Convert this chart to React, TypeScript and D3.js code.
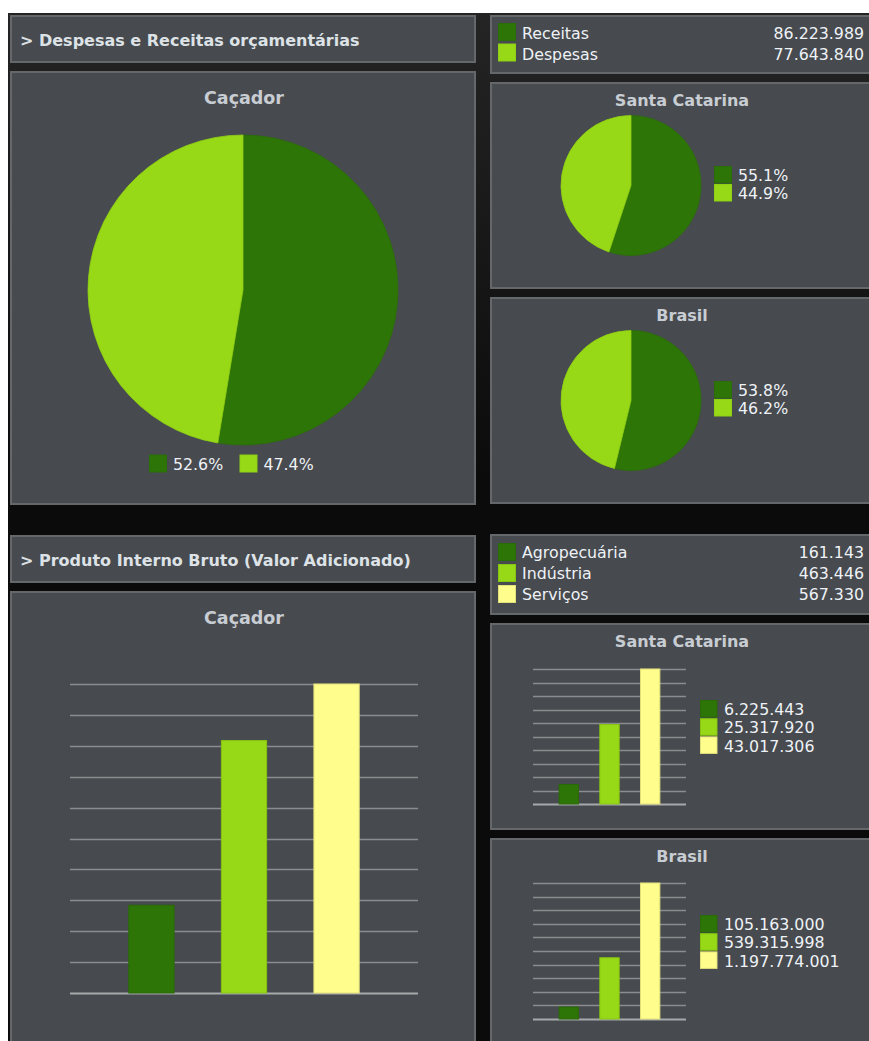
import React from "react";
import * as d3 from "d3";

// ---- Data ----
const budgetCategories = ["Receitas", "Despesas"];
const budgetValues = [86223989, 77643840];
const cacadorPiePct = [52.6, 47.4];
const scPiePct = [55.1, 44.9];
const brasilPiePct = [53.8, 46.2];

const pibCategories = ["Agropecuária", "Indústria", "Serviços"];
const cacadorPib = [161143, 463446, 567330];
const scPib = [6225443, 25317920, 43017306];
const brasilPib = [105163000, 539315998, 1197774001];

const pieColors = ["#2e7508", "#97d916"];
const pieStroke = ["#2b6e08", "#8fcf14"];
const barColors = ["#2e7508", "#97d916", "#fffd8c"];
const barStroke = ["#2a6a07", "#86c412", "#e2e07a"];

const FONT = "'DejaVu Sans', Verdana, sans-serif";
const PANEL_FILL = "#474a4e";
const PANEL_STROKE = "#65686b";
const TITLE_COLOR = "#c8cdd3";
const TEXT_COLOR = "#eef2f7";
const LEG_FS = 15.8;

const locale = d3.formatLocale({ decimal: ",", thousands: ".", grouping: [3], currency: ["", ""] });
const fmt = locale.format(",d");
const pctFmt = (v: number) => v.toFixed(1) + "%";

function Panel({ x, y, w, h }: { x: number; y: number; w: number; h: number }) {
  return <rect x={x + 1} y={y + 1} width={w - 2} height={h - 2} fill={PANEL_FILL} stroke={PANEL_STROKE} strokeWidth={2} />;
}

function Pie({ cx, cy, r, values }: { cx: number; cy: number; r: number; values: number[] }) {
  const arcs = d3.pie<number>().sort(null).value((d) => d)(values);
  const arc = d3.arc<d3.PieArcDatum<number>>().innerRadius(0).outerRadius(r);
  return (
    <g transform={`translate(${cx},${cy})`}>
      {arcs.map((a, i) => (
        <path key={i} d={arc(a) || ""} fill={pieColors[i]} stroke={pieStroke[i]} strokeWidth={0.8} />
      ))}
    </g>
  );
}

function Bars({ x0, x1, yTop, yBot, values }: { x0: number; x1: number; yTop: number; yBot: number; values: number[] }) {
  const max = d3.max(values) as number;
  const y = d3.scaleLinear().domain([0, max]).range([yBot, yTop]);
  const x = d3.scaleBand<number>().domain(values.map((_, i) => i)).range([x0, x1]).paddingInner(0.5).paddingOuter(0.63);
  const grid = d3.range(0, 11).map((i) => (max * i) / 10);
  return (
    <g>
      {grid.map((g, i) => (
        <line
          key={i}
          x1={x0}
          x2={x1}
          y1={Math.round(y(g)) + 0.5}
          y2={Math.round(y(g)) + 0.5}
          stroke={i === 0 ? "#a6a9ac" : "#8a8d90"}
          strokeWidth={i === 0 ? 2 : 1.3}
        />
      ))}
      {values.map((v, i) => (
        <rect
          key={i}
          x={x(i)! + 0.5}
          y={y(v)}
          width={x.bandwidth() - 1}
          height={yBot - y(v)}
          fill={barColors[i]}
          stroke={barStroke[i]}
          strokeWidth={1}
        />
      ))}
    </g>
  );
}

export default function App() {
  return (
    <svg
      width={869}
      height={1041}
      style={{ position: "absolute", left: 0, top: 0, display: "block" }}
      fontFamily={FONT}
    >
      <defs>
        <linearGradient id="bg" gradientUnits="userSpaceOnUse" x1={0} y1={13} x2={0} y2={480}>
          <stop offset="0" stopColor="#242424" />
          <stop offset="1" stopColor="#0b0b0b" />
        </linearGradient>
      </defs>
      <rect x={0} y={0} width={869} height={1041} fill="#ffffff" />
      <rect x={8} y={13} width={861} height={1028} fill="url(#bg)" />

      {/* ===== Section 1: budget ===== */}
      <Panel x={10} y={15} w={466} h={48} />
      <text x={20} y={45.5} fontSize={16} fontWeight="bold" fill="#dde2e7">
        {"> Despesas e Receitas orçamentárias"}
      </text>

      <Panel x={10} y={71} w={466} h={434} />
      <text x={244} y={104} fontSize={17.5} fontWeight="bold" fill={TITLE_COLOR} textAnchor="middle">
        Caçador
      </text>
      <Pie cx={243} cy={290} r={155} values={cacadorPiePct} />
      {cacadorPiePct.map((v, i) => (
        <g key={i}>
          <rect x={149.5} y={455} width={17} height={17} fill={pieColors[i]} stroke={pieStroke[i]} strokeWidth={1} transform={`translate(${i * 90.5},0)`} />
          <text x={173 + i * 90.5} y={470} fontSize={LEG_FS} fill={TEXT_COLOR}>
            {pctFmt(v)}
          </text>
        </g>
      ))}

      <Panel x={490} y={15} w={390} h={59} />
      {budgetCategories.map((c, i) => (
        <g key={c}>
          <rect x={498.5} y={23.5 + i * 20.5} width={17} height={17} fill={pieColors[i]} stroke={pieStroke[i]} strokeWidth={1} />
          <text x={522} y={39 + i * 21} fontSize={LEG_FS} fill={TEXT_COLOR}>
            {c}
          </text>
          <text x={864} y={39 + i * 21} fontSize={LEG_FS} fill={TEXT_COLOR} textAnchor="end">
            {fmt(budgetValues[i])}
          </text>
        </g>
      ))}

      {[
        { title: "Santa Catarina", top: 82, vals: scPiePct },
        { title: "Brasil", top: 297, vals: brasilPiePct },
      ].map((p) => (
        <g key={p.title}>
          <Panel x={490} y={p.top} w={390} h={207} />
          <text x={682} y={p.top + 24} fontSize={16} fontWeight="bold" fill={TITLE_COLOR} textAnchor="middle">
            {p.title}
          </text>
          <Pie cx={631} cy={p.top + 103.5} r={70} values={p.vals} />
          {p.vals.map((v, i) => (
            <g key={i}>
              <rect x={714.5} y={p.top + 84.5 + i * 18} width={17} height={16.5} fill={pieColors[i]} stroke={pieStroke[i]} strokeWidth={1} />
              <text x={738} y={p.top + 99 + i * 18} fontSize={LEG_FS} fill={TEXT_COLOR}>
                {pctFmt(v)}
              </text>
            </g>
          ))}
        </g>
      ))}

      {/* ===== Section 2: PIB ===== */}
      <Panel x={10} y={535} w={466} h={48} />
      <text x={20} y={565.5} fontSize={16} fontWeight="bold" fill="#dde2e7">
        {"> Produto Interno Bruto (Valor Adicionado)"}
      </text>

      <Panel x={10} y={591} w={466} h={470} />
      <text x={244} y={624} fontSize={17.5} fontWeight="bold" fill={TITLE_COLOR} textAnchor="middle">
        Caçador
      </text>
      <Bars x0={70} x1={418} yTop={684} yBot={993} values={cacadorPib} />

      <Panel x={490} y={534} w={390} h={81} />
      {pibCategories.map((c, i) => (
        <g key={c}>
          <rect x={498.5} y={543.5 + i * 21} width={17} height={17} fill={barColors[i]} stroke={barStroke[i]} strokeWidth={1} />
          <text x={522} y={558 + i * 21} fontSize={LEG_FS} fill={TEXT_COLOR}>
            {c}
          </text>
          <text x={864} y={558 + i * 21} fontSize={LEG_FS} fill={TEXT_COLOR} textAnchor="end">
            {fmt(cacadorPib[i])}
          </text>
        </g>
      ))}

      {[
        { title: "Santa Catarina", top: 623, h: 207, vals: scPib, yTop: 669, yBot: 804, legTop: 700.5, base: 715 },
        { title: "Brasil", top: 838, h: 230, vals: brasilPib, yTop: 883, yBot: 1019, legTop: 915.5, base: 930 },
      ].map((p) => (
        <g key={p.title}>
          <Panel x={490} y={p.top} w={390} h={p.h} />
          <text x={682} y={p.top + 24} fontSize={16} fontWeight="bold" fill={TITLE_COLOR} textAnchor="middle">
            {p.title}
          </text>
          <Bars x0={533} x1={686} yTop={p.yTop} yBot={p.yBot} values={p.vals} />
          {p.vals.map((v, i) => (
            <g key={i}>
              <rect x={700.5} y={p.legTop + i * 18.2} width={16.5} height={16.5} fill={barColors[i]} stroke={barStroke[i]} strokeWidth={1} />
              <text x={724} y={p.base + i * 18.3} fontSize={LEG_FS} fill={TEXT_COLOR}>
                {fmt(v)}
              </text>
            </g>
          ))}
        </g>
      ))}
    </svg>
  );
}
